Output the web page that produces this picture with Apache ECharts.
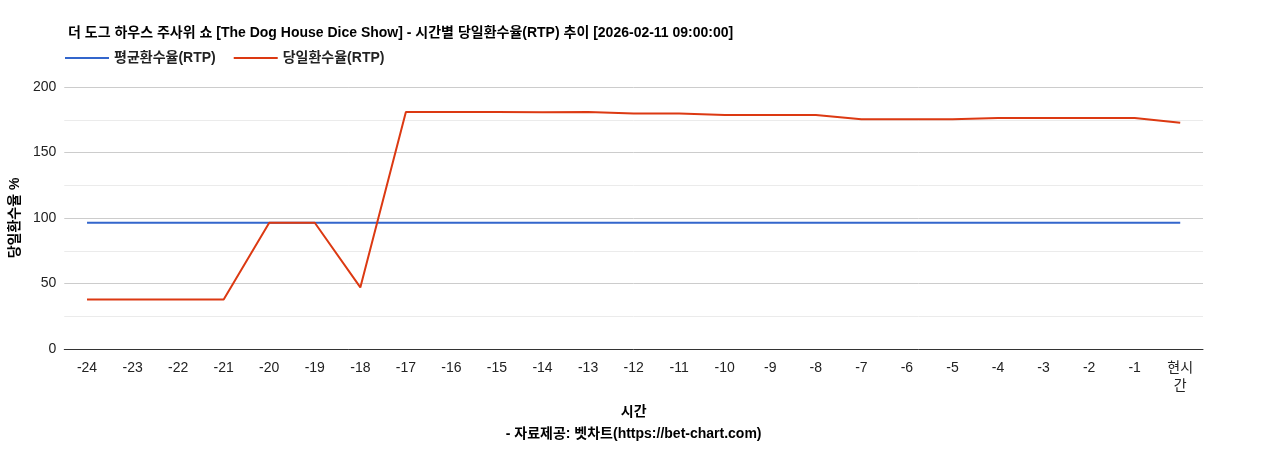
<!DOCTYPE html>
<html><head><meta charset="utf-8">
<script src="https://cdn.jsdelivr.net/npm/echarts@6/dist/echarts.min.js"></script>
<style>body{margin:0}#c{width:1268px;height:450px}</style></head>
<body><div id="c"></div>
<script>
const categories = ['-24','-23','-22','-21','-20','-19','-18','-17','-16','-15','-14','-13','-12','-11','-10','-9','-8','-7','-6','-5','-4','-3','-2','-1','현시\n간'];
const avgRtp = [96.4,96.4,96.4,96.4,96.4,96.4,96.4,96.4,96.4,96.4,96.4,96.4,96.4,96.4,96.4,96.4,96.4,96.4,96.4,96.4,96.4,96.4,96.4,96.4,96.4];
const dayRtp = [37.7,37.7,37.7,37.7,96.4,96.4,47,181,181,181,180.8,181,179.7,179.7,178.6,178.6,178.6,175.4,175.4,175.4,176.4,176.4,176.4,176.4,172.8];
const yTicks = [0,50,100,150,200];
const ff = '"Liberation Sans", Arial, "Noto Sans CJK KR", sans-serif';
const chart = echarts.init(document.getElementById('c'));
chart.setOption({
  textStyle:{fontFamily:ff},
  title:{text:'더 도그 하우스 주사위 쇼 [The Dog House Dice Show] - 시간별 당일환수율(RTP) 추이 [2026-02-11 09:00:00]',left:63,top:21,textStyle:{fontSize:14,fontWeight:'bold',color:'#000',fontFamily:ff}},
  legend:{left:60,top:46,itemWidth:44,itemHeight:2,itemGap:18,icon:'rect',textStyle:{fontSize:14,fontWeight:'bold',color:'#222',fontFamily:ff},data:['평균환수율(RTP)','당일환수율(RTP)']},
  grid:{left:63,right:65,top:87,bottom:87},
  xAxis:{type:'category',data:categories,name:'시간\n- 자료제공: 벳차트(https://bet-chart.com)',nameLocation:'middle',nameGap:52,
    nameTextStyle:{fontSize:14,fontWeight:'bold',color:'#000',lineHeight:22,fontFamily:ff},
    axisLine:{lineStyle:{color:'#333'}},axisTick:{show:false},axisLabel:{color:'#222',fontSize:14,interval:0,lineHeight:18,margin:10,fontFamily:ff}},
  yAxis:{type:'value',min:0,max:200,interval:25,name:'당일환수율 %',nameLocation:'middle',nameGap:22,nameTextStyle:{fontSize:14,fontWeight:'bold',color:'#000',fontFamily:ff},
    axisLabel:{fontSize:14,color:'#222',margin:8,fontFamily:ff,formatter:v=>yTicks.includes(v)?v:''},
    splitLine:{lineStyle:{color:['#ccc','#ebebeb','#ccc','#ebebeb','#ccc','#ebebeb','#ccc','#ebebeb','#ccc']}}},
  series:[
    {name:'평균환수율(RTP)',type:'line',data:avgRtp,symbol:'none',color:'#3366cc',lineStyle:{width:2}},
    {name:'당일환수율(RTP)',type:'line',data:dayRtp,symbol:'none',color:'#dc3912',lineStyle:{width:2}}
  ]
});
</script></body></html>
